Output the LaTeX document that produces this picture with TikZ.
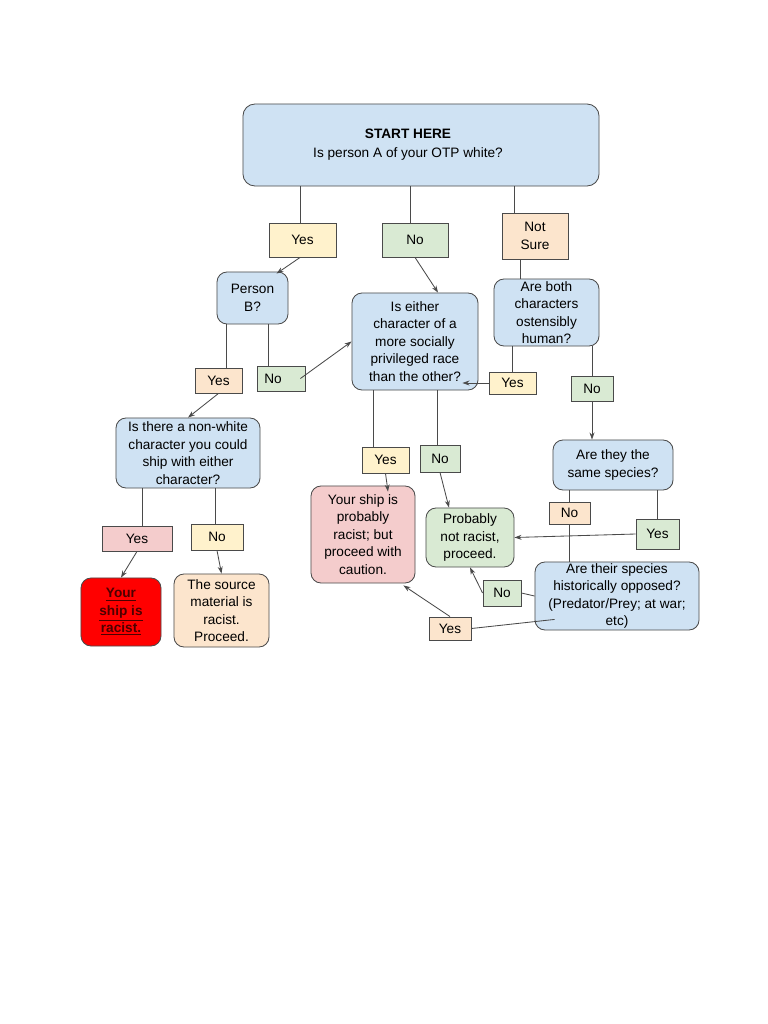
\documentclass[tikz,border=0pt]{standalone}
\usepackage{fontspec}
\setmainfont{Liberation Sans}
\usepackage{xcolor}
\usetikzlibrary{arrows.meta}

\definecolor{qblue}{HTML}{CFE2F3}
\definecolor{ayellow}{HTML}{FFF2CC}
\definecolor{agreen}{HTML}{D9EAD3}
\definecolor{aorange}{HTML}{FCE5CD}
\definecolor{apink}{HTML}{F4CCCC}
\definecolor{ared}{HTML}{FF0000}
\definecolor{edgegray}{HTML}{4A4A4A}
\definecolor{darkred}{HTML}{4C0000}

\tikzset{
  question/.style={draw=edgegray, rectangle, rounded corners=0.25cm, fill=qblue, align=center, inner sep=0pt, line width=0.6pt},
  outcome/.style={draw=edgegray, rectangle, rounded corners=0.25cm, align=center, inner sep=0pt, line width=0.6pt},
  answer/.style={draw=edgegray, rectangle, align=center, inner sep=0pt, line width=0.6pt},
  link/.style={draw=edgegray, line width=0.6pt},
  arr/.style={link, -{Stealth[length=5pt,width=3.5pt]}}
}

\begin{document}
\begin{tikzpicture}[x=0.025cm, y=-0.025cm, every node/.style={font=\fontsize{9.7}{12.4}\selectfont}]
  \useasboundingbox[fill=white] (0,0) rectangle (768,1024);

  % questions
  \node[question, rounded corners=0.3cm, minimum width=8.9cm, minimum height=2.05cm] (start) at (421,145) {\textbf{START HERE}\hspace*{0.65cm}\\[1pt]Is person A of your OTP white?\hspace*{0.65cm}};
  \node[question, minimum width=1.775cm, minimum height=1.3cm] (personb) at (252.5,298) {Person\\B?};
  \node[question, minimum width=3.15cm, minimum height=2.425cm] (either) at (415,341.5) {Is either\\character of a\\more socially\\privileged race\\than the other?};
  \node[question, minimum width=2.625cm, minimum height=1.675cm] (human) at (546.5,312.5) {Are both\\characters\\ostensibly\\human?};
  \node[question, minimum width=3.0cm, minimum height=1.25cm] (species) at (613,465) {Are they the\\same species?};
  \node[question, minimum width=4.1cm, minimum height=1.7cm] (opposed) at (617,596) {Are their species\\historically opposed?\\(Predator/Prey; at war;\\etc)};
  \node[question, minimum width=3.6cm, minimum height=1.75cm] (nonwhite) at (188,453) {Is there a non-white\\character you could\\ship with either\\character?};

  % outcomes
  \node[outcome, fill=apink, minimum width=2.6cm, minimum height=2.425cm] (maybe) at (363,534.5) {Your ship is\\probably\\racist; but\\proceed with\\caution.};
  \node[outcome, fill=agreen, minimum width=2.2cm, minimum height=1.475cm] (fine) at (470,537.5) {Probably\\not racist,\\proceed.};
  \node[outcome, fill=ared, minimum width=2.0cm, minimum height=1.7cm, text=darkred, font=\fontsize{9.7}{12.4}\selectfont\bfseries] (racist) at (121,612) {\underline{Your}\\\underline{ship is}\\\underline{racist.}};
  \node[outcome, fill=aorange, minimum width=2.375cm, minimum height=1.825cm] (source) at (221.5,610.5) {The source\\material is\\racist.\\Proceed.};

  % answers
  \node[answer, fill=ayellow, minimum width=1.675cm, minimum height=0.85cm] (yesA) at (302.5,240) {Yes};
  \node[answer, fill=agreen, minimum width=1.65cm, minimum height=0.85cm] (noA) at (415,240) {No};
  \node[answer, fill=aorange, minimum width=1.65cm, minimum height=1.15cm] (unsure) at (535,236) {Not\\Sure};
  \node[answer, fill=aorange, minimum width=1.175cm, minimum height=0.625cm] (yesB) at (218.5,380.5) {Yes};
  \node[answer, fill=agreen, minimum width=1.2cm, minimum height=0.625cm] (noB) at (281,378.5) {No\hspace*{0.4cm}};
  \node[answer, fill=ayellow, minimum width=1.175cm, minimum height=0.55cm] (yesH) at (512.5,383) {Yes};
  \node[answer, fill=agreen, minimum width=1.05cm, minimum height=0.625cm] (noH) at (592,388.5) {No};
  \node[answer, fill=ayellow, minimum width=1.175cm, minimum height=0.65cm] (yesE) at (385.5,460) {Yes};
  \node[answer, fill=agreen, minimum width=1.0cm, minimum height=0.675cm] (noE) at (440,458.5) {No};
  \node[answer, fill=agreen, minimum width=1.075cm, minimum height=0.75cm] (yesS) at (657.5,534) {Yes};
  \node[answer, fill=aorange, minimum width=1.025cm, minimum height=0.55cm] (noS) at (569.5,513) {No};
  \node[answer, fill=agreen, minimum width=0.95cm, minimum height=0.65cm] (noO) at (502,593) {No};
  \node[answer, fill=aorange, minimum width=1.05cm, minimum height=0.575cm] (yesO) at (450,628.5) {Yes};
  \node[answer, fill=apink, minimum width=1.75cm, minimum height=0.625cm] (yesN) at (137,538.5) {Yes};
  \node[answer, fill=ayellow, minimum width=1.3cm, minimum height=0.65cm] (noN) at (217,537) {No};

  % links from the start
  \draw[link] ([xshift=-0.06cm]yesA.north) -- ([xshift=-0.06cm]yesA.north |- start.south);
  \draw[link] ([xshift=-0.125cm]noA.north) -- ([xshift=-0.125cm]noA.north |- start.south);
  \draw[link] ([xshift=-0.525cm]unsure.north) -- ([xshift=-0.525cm]unsure.north |- start.south);
  \draw[arr] ([xshift=-0.06cm]yesA.south) -- ([xshift=0.6cm,yshift=-0.05cm]personb.north);
  \draw[arr] (noA.south) -- ([xshift=0.575cm]either.north);
  \draw[link] ([xshift=-0.375cm]unsure.south) -- ([xshift=-0.375cm]unsure.south |- human.north);

  % person B
  \draw[link] ([xshift=0.19cm]yesB.north) -- ([xshift=0.19cm]yesB.north |- personb.south);
  \draw[link] ([xshift=-0.325cm]noB.north) -- ([xshift=-0.325cm]noB.north |- personb.south);
  \draw[arr] ([xshift=-0.125cm]noB.east) -- (either.west);
  \draw[arr] (yesB.south) -- (nonwhite.north);

  % human?
  \draw[link] (yesH.north) -- (yesH.north |- human.south);
  \draw[arr] (yesH.west) -- ([xshift=-0.4cm]yesH.west -| either.east);
  \draw[link] (noH.north) -- (noH.north |- human.south);
  \draw[arr] (noH.south) -- (noH.south |- species.north);

  % either privileged?
  \draw[link] ([xshift=-0.31cm]yesE.north) -- ([xshift=-0.31cm]yesE.north |- either.south);
  \draw[link] ([xshift=-0.075cm]noE.north) -- ([xshift=-0.075cm]noE.north |- either.south);
  \draw[arr] (yesE.south) -- ([xshift=0.625cm,yshift=-0.15cm]maybe.north);
  \draw[arr] (noE.south) -- ([xshift=-0.525cm]fine.north);

  % same species?
  \draw[link] (yesS.north) -- (yesS.north |- species.south);
  \draw[arr] (yesS.west) -- (fine.east);
  \draw[link] (noS.north) -- (noS.north |- species.south);
  \draw[link] (noS.south) -- (noS.south |- opposed.north);

  % opposed?
  \draw[link] (opposed.west) -- (noO.east);
  \draw[arr] (noO.west) -- (fine.south);
  \draw[link] ([xshift=0.5cm,yshift=0.275cm]opposed.south west) -- (yesO.east);
  \draw[arr] (yesO.north) -- ([xshift=-0.3cm,yshift=-0.05cm]maybe.south east);

  % non-white character?
  \draw[link] ([xshift=0.125cm]yesN.north) -- ([xshift=0.125cm]yesN.north |- nonwhite.south);
  \draw[link] ([xshift=-0.05cm]noN.north) -- ([xshift=-0.05cm]noN.north |- nonwhite.south);
  \draw[arr] (yesN.south) -- (racist.north);
  \draw[arr] (noN.south) -- (source.north);
\end{tikzpicture}
\end{document}
